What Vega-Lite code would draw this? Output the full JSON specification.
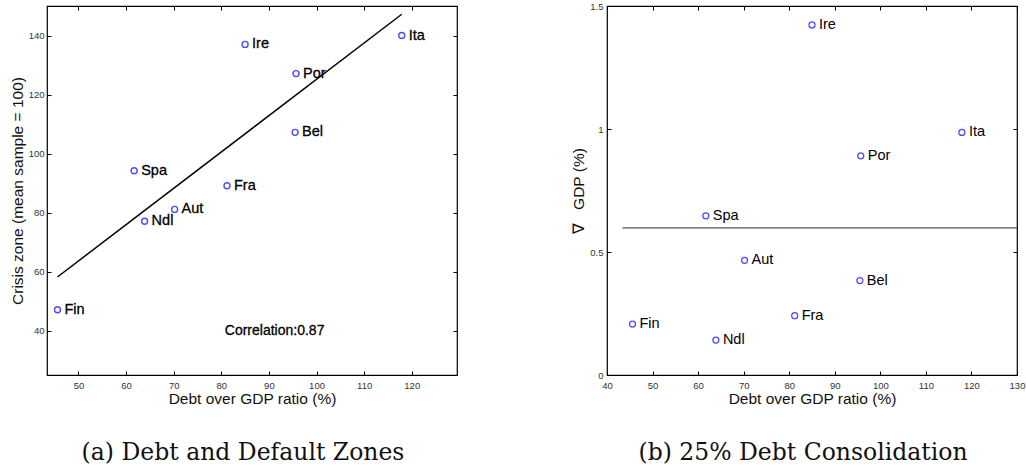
{
  "$schema": "https://vega.github.io/schema/vega-lite/v6.json",
  "padding": {"left": 9, "top": 0, "right": 0, "bottom": 0},
  "background": "white",
  "bounds": "flush",
  "spacing": 150,
  "config": {
    "view": {"stroke": "#000", "strokeWidth": 1.2},
    "axis": {
      "domain": false, "grid": false, "ticks": true, "tickColor": "#000", "tickSize": -4, "tickWidth": 1,
      "labelFont": "Liberation Sans", "labelFontSize": 9.5, "labelColor": "#333", "labelFlush": false, "labelOverlap": false,
      "titleFont": "Liberation Sans", "titleFontSize": 15.5, "titleFontWeight": "normal", "titleColor": "#111"
    }
  },
  "datasets": {
    "countries": [
      {"country": "Ire", "debt": 85.0, "crisis": 137.0, "dgdp": 1.423},
      {"country": "Ita", "debt": 117.9, "crisis": 140.0, "dgdp": 0.986},
      {"country": "Por", "debt": 95.7, "crisis": 127.1, "dgdp": 0.891},
      {"country": "Bel", "debt": 95.5, "crisis": 107.2, "dgdp": 0.384},
      {"country": "Spa", "debt": 61.7, "crisis": 94.2, "dgdp": 0.647},
      {"country": "Fra", "debt": 81.2, "crisis": 89.1, "dgdp": 0.241},
      {"country": "Aut", "debt": 70.2, "crisis": 81.1, "dgdp": 0.466},
      {"country": "Ndl", "debt": 63.9, "crisis": 77.1, "dgdp": 0.142},
      {"country": "Fin", "debt": 45.6, "crisis": 47.1, "dgdp": 0.207}
    ],
    "fit": [
      {"debt": 45.6, "crisis": 58.2},
      {"debt": 117.9, "crisis": 147.2}
    ],
    "note": [
      {"debt": 91.2, "crisis": 40, "label": "Correlation:0.87"}
    ],
    "hline": [
      {"x1": 43.4, "x2": 130, "y": 0.598}
    ]
  },
  "hconcat": [
    {
      "width": 410,
      "height": 369,
      "title": {"text": "(a) Debt and Default Zones", "orient": "bottom", "anchor": "middle", "frame": "group", "font": "DejaVu Serif", "fontSize": 23.5, "fontWeight": "normal", "color": "#111", "offset": 34, "dx": -9},
      "resolve": {"axis": {"x": "independent", "y": "independent"}},
      "layer": [
        {
          "data": {"name": "countries"},
          "mark": {"type": "point", "shape": "circle", "filled": false, "color": "#0000ff", "size": 36, "strokeWidth": 1.4},
          "encoding": {
            "x": {"field": "debt", "type": "quantitative", "scale": {"domain": [43.4, 129.5], "nice": false, "zero": false},
                  "axis": {"orient": "bottom", "values": [50, 60, 70, 80, 90, 100, 110, 120], "title": "Debt over GDP ratio (%)", "labelPadding": 9, "titlePadding": 2}},
            "y": {"field": "crisis", "type": "quantitative", "scale": {"domain": [25, 150], "nice": false, "zero": false},
                  "axis": {"orient": "left", "values": [40, 60, 80, 100, 120, 140], "title": "Crisis zone (mean sample = 100)", "labelPadding": 7, "titlePadding": 3}}
          }
        },
        {
          "data": {"name": "countries"},
          "mark": {"type": "text", "align": "left", "baseline": "middle", "dx": 7, "font": "Liberation Sans", "fontSize": 14.5, "color": "#000", "stroke": "#000", "strokeWidth": 0.3},
          "encoding": {
            "x": {"field": "debt", "type": "quantitative", "axis": {"orient": "top", "values": [50, 60, 70, 80, 90, 100, 110, 120], "labels": false, "title": null}},
            "y": {"field": "crisis", "type": "quantitative", "axis": {"orient": "right", "values": [40, 60, 80, 100, 120, 140], "labels": false, "title": null}},
            "text": {"field": "country", "type": "nominal"}
          }
        },
        {
          "data": {"name": "fit"},
          "mark": {"type": "line", "color": "#000", "strokeWidth": 1.5},
          "encoding": {
            "x": {"field": "debt", "type": "quantitative", "axis": null},
            "y": {"field": "crisis", "type": "quantitative", "axis": null}
          }
        },
        {
          "data": {"name": "note"},
          "mark": {"type": "text", "align": "center", "baseline": "middle", "font": "Liberation Sans", "fontSize": 14, "color": "#000", "stroke": "#000", "strokeWidth": 0.3},
          "encoding": {
            "x": {"field": "debt", "type": "quantitative", "axis": null},
            "y": {"field": "crisis", "type": "quantitative", "axis": null},
            "text": {"field": "label", "type": "nominal"}
          }
        }
      ]
    },
    {
      "width": 410,
      "height": 369,
      "title": {"text": "(b) 25% Debt Consolidation", "orient": "bottom", "anchor": "middle", "frame": "group", "font": "DejaVu Serif", "fontSize": 23.5, "fontWeight": "normal", "color": "#111", "offset": 34, "dx": -9},
      "resolve": {"axis": {"x": "independent", "y": "independent"}},
      "layer": [
        {
          "data": {"name": "hline"},
          "mark": {"type": "rule", "color": "#555", "strokeWidth": 1.2},
          "encoding": {
            "x": {"field": "x1", "type": "quantitative", "scale": {"domain": [40, 130], "nice": false, "zero": false},
                  "axis": {"orient": "bottom", "values": [40, 50, 60, 70, 80, 90, 100, 110, 120, 130], "title": "Debt over GDP ratio (%)", "labelPadding": 9, "titlePadding": 2}},
            "x2": {"field": "x2"},
            "y": {"field": "y", "type": "quantitative", "scale": {"domain": [0, 1.5], "nice": false, "zero": false},
                  "axis": {"orient": "left", "values": [0, 0.5, 1, 1.5], "format": "~g", "title": "∇\u00a0\u00a0\u00a0GDP (%)", "labelPadding": 8, "titlePadding": 3}}
          }
        },
        {
          "data": {"name": "countries"},
          "mark": {"type": "point", "shape": "circle", "filled": false, "color": "#0000ff", "size": 36, "strokeWidth": 1.3},
          "encoding": {
            "x": {"field": "debt", "type": "quantitative", "axis": {"orient": "top", "values": [40, 50, 60, 70, 80, 90, 100, 110, 120, 130], "labels": false, "title": null}},
            "y": {"field": "dgdp", "type": "quantitative", "axis": {"orient": "right", "values": [0, 0.5, 1, 1.5], "labels": false, "title": null}}
          }
        },
        {
          "data": {"name": "countries"},
          "mark": {"type": "text", "align": "left", "baseline": "middle", "dx": 7, "font": "Liberation Sans", "fontSize": 14.5, "color": "#000"},
          "encoding": {
            "x": {"field": "debt", "type": "quantitative", "axis": null},
            "y": {"field": "dgdp", "type": "quantitative", "axis": null},
            "text": {"field": "country", "type": "nominal"}
          }
        }
      ]
    }
  ]
}
